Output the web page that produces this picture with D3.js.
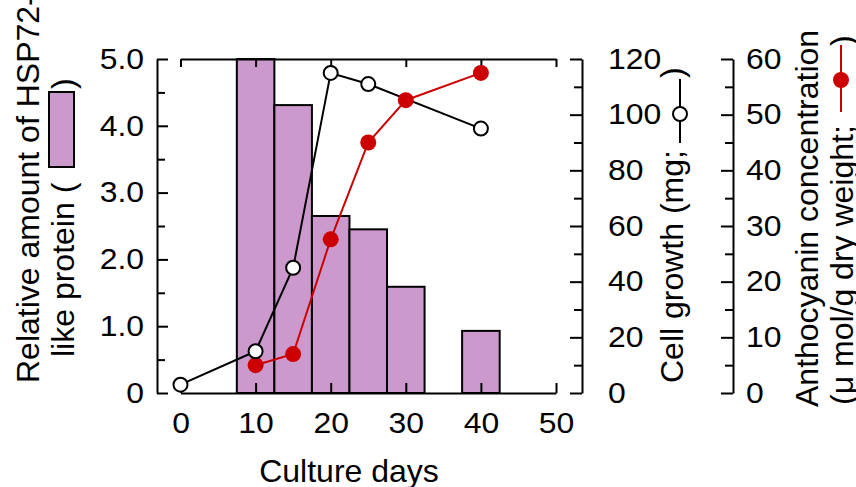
<!DOCTYPE html>
<html>
<head>
<meta charset="utf-8">
<script src="https://cdn.jsdelivr.net/npm/d3@7"></script>
<style>
  body { margin: 0; background: #fff; }
  svg { display: block; }
  text { font-family: "Liberation Sans", Arial, sans-serif; fill: #000; }
</style>
</head>
<body>
<svg id="chart" width="856" height="487"></svg>
<script>
// data
const barDays = [10, 15, 20, 25, 30, 40];
const hspAmount = [5.0, 4.31, 2.65, 2.45, 1.59, 0.93];

const growthDays = [0, 10, 15, 20, 25, 40];
const cellGrowth = [3, 15, 45, 115, 111, 95];

const anthoDays = [10, 15, 20, 25, 30, 40];
const anthocyanin = [5, 7, 27.6, 45, 52.6, 57.5];

// tick values
const dayTicks = [0, 10, 20, 30, 40, 50];
const hspTicks = [0, 1, 2, 3, 4, 5];
const hspMinor = [0.5, 1.5, 2.5, 3.5, 4.5];
const growthTicks = [0, 20, 40, 60, 80, 100, 120];
const growthMinor = [10, 30, 50, 70, 90, 110];
const anthoTicks = [0, 10, 20, 30, 40, 50, 60];
const anthoMinor = [5, 15, 25, 35, 45, 55];

const svg = d3.select("#chart");

const x = d3.scaleLinear().domain([0, 50]).range([180.5, 556]);
const yL = d3.scaleLinear().domain([0, 5]).range([393, 59]);
const yG = d3.scaleLinear().domain([0, 120]).range([393, 59]);
const yA = d3.scaleLinear().domain([0, 60]).range([393, 59]);

const barColor = "#cc99cc";
const red = "#cc0000";

// bars (5 days wide, centred on the day)
svg.append("g").selectAll("rect")
  .data(barDays)
  .join("rect")
  .attr("x", d => x(d - 2.5))
  .attr("width", d => x(d + 2.5) - x(d - 2.5))
  .attr("y", (d, i) => yL(hspAmount[i]))
  .attr("height", (d, i) => yL(0) - yL(hspAmount[i]))
  .attr("fill", barColor)
  .attr("stroke", "#000")
  .attr("stroke-width", 2);

// axes
function styleAxis(g, size) {
  g.selectAll("path, line").attr("stroke", "#000").attr("stroke-width", 2);
  g.selectAll("text").style("font-size", size + "px").attr("fill", "#000")
    .style("font-family", "'Liberation Sans', Arial, sans-serif");
}
function stretch(sel, k) {
  sel.each(function () {
    const w = this.getComputedTextLength();
    if (w > 0) d3.select(this).attr("textLength", w * k).attr("lengthAdjust", "spacingAndGlyphs");
  });
}

const bottomAxis = svg.append("g").attr("transform", "translate(0,393)")
  .call(d3.axisBottom(x).tickValues(dayTicks).tickSize(-10).tickSizeOuter(0).tickPadding(19));
const topAxis = svg.append("g").attr("transform", "translate(0,59)")
  .call(d3.axisTop(x).tickValues(dayTicks).tickSize(-8).tickSizeOuter(0).tickFormat(""));

const leftAxis = svg.append("g").attr("transform", "translate(157,0)")
  .call(d3.axisLeft(yL).tickValues(hspTicks).tickSize(-11).tickSizeOuter(0).tickPadding(13)
    .tickFormat(d => d === 0 ? "0" : d3.format(".1f")(d)));
const leftMinor = svg.append("g").attr("transform", "translate(157,0)")
  .call(d3.axisLeft(yL).tickValues(hspMinor).tickSize(-8).tickFormat(""));
leftMinor.select(".domain").remove();

const rightG = svg.append("g").attr("transform", "translate(582,0)")
  .call(d3.axisRight(yG).tickValues(growthTicks).tickSize(-12).tickSizeOuter(0).tickPadding(26));
const rightGMinor = svg.append("g").attr("transform", "translate(582,0)")
  .call(d3.axisRight(yG).tickValues(growthMinor).tickSize(-8).tickFormat(""));
rightGMinor.select(".domain").remove();

const rightA = svg.append("g").attr("transform", "translate(733,0)")
  .call(d3.axisRight(yA).tickValues(anthoTicks).tickSize(-12).tickSizeOuter(0).tickPadding(13));
const rightAMinor = svg.append("g").attr("transform", "translate(733,0)")
  .call(d3.axisRight(yA).tickValues(anthoMinor).tickSize(-8).tickFormat(""));
rightAMinor.select(".domain").remove();

[bottomAxis, topAxis, leftAxis, leftMinor, rightG, rightGMinor, rightA, rightAMinor].forEach(g => styleAxis(g, 29));
[bottomAxis, leftAxis, rightG, rightA].forEach(g => stretch(g.selectAll("text"), 1.1));

// line series
const growthPts = growthDays.map((d, i) => [d, cellGrowth[i]]);
const anthoPts = anthoDays.map((d, i) => [d, anthocyanin[i]]);

svg.append("path")
  .datum(growthPts)
  .attr("fill", "none").attr("stroke", "#000").attr("stroke-width", 2)
  .attr("d", d3.line().x(d => x(d[0])).y(d => yG(d[1])));

svg.append("path")
  .datum(anthoPts)
  .attr("fill", "none").attr("stroke", red).attr("stroke-width", 2)
  .attr("d", d3.line().x(d => x(d[0])).y(d => yA(d[1])));

svg.append("g").selectAll("circle")
  .data(anthoPts).join("circle")
  .attr("cx", d => x(d[0])).attr("cy", d => yA(d[1])).attr("r", 8)
  .attr("fill", red);

svg.append("g").selectAll("circle")
  .data(growthPts).join("circle")
  .attr("cx", d => x(d[0])).attr("cy", d => yG(d[1])).attr("r", 7)
  .attr("fill", "#fff").attr("stroke", "#000").attr("stroke-width", 2);

// titles
function vtext(tx, ty, str) {
  return svg.append("text")
    .attr("transform", `translate(${tx},${ty}) rotate(-90)`)
    .style("font-size", "32px")
    .text(str);
}

svg.append("text")
  .attr("x", 349).attr("y", 482)
  .attr("text-anchor", "middle")
  .style("font-size", "32px")
  .text("Culture days");

// left title with bar swatch
vtext(39, 383, "Relative amount of HSP72-");
vtext(74, 357, "like protein (");
svg.append("rect")
  .attr("x", 49).attr("y", 92).attr("width", 25).attr("height", 75)
  .attr("fill", barColor).attr("stroke", "#000").attr("stroke-width", 2);
vtext(74, 89, ")");

// cell growth title with open-circle key
vtext(683, 383, "Cell growth (mg;");
svg.append("line").attr("x1", 680).attr("x2", 680).attr("y1", 143).attr("y2", 79)
  .attr("stroke", "#000").attr("stroke-width", 2);
svg.append("circle").attr("cx", 680).attr("cy", 114).attr("r", 7)
  .attr("fill", "#fff").attr("stroke", "#000").attr("stroke-width", 2);
vtext(683, 78, ")");

// anthocyanin title with red key
vtext(818, 407, "Anthocyanin concentration");
vtext(853, 405, "(\u03bc mol/g dry weight;");
svg.append("line").attr("x1", 841).attr("x2", 841).attr("y1", 112).attr("y2", 45)
  .attr("stroke", red).attr("stroke-width", 2);
svg.append("circle").attr("cx", 841).attr("cy", 80).attr("r", 8).attr("fill", red);
vtext(853, 46, ")");
</script>
</body>
</html>
